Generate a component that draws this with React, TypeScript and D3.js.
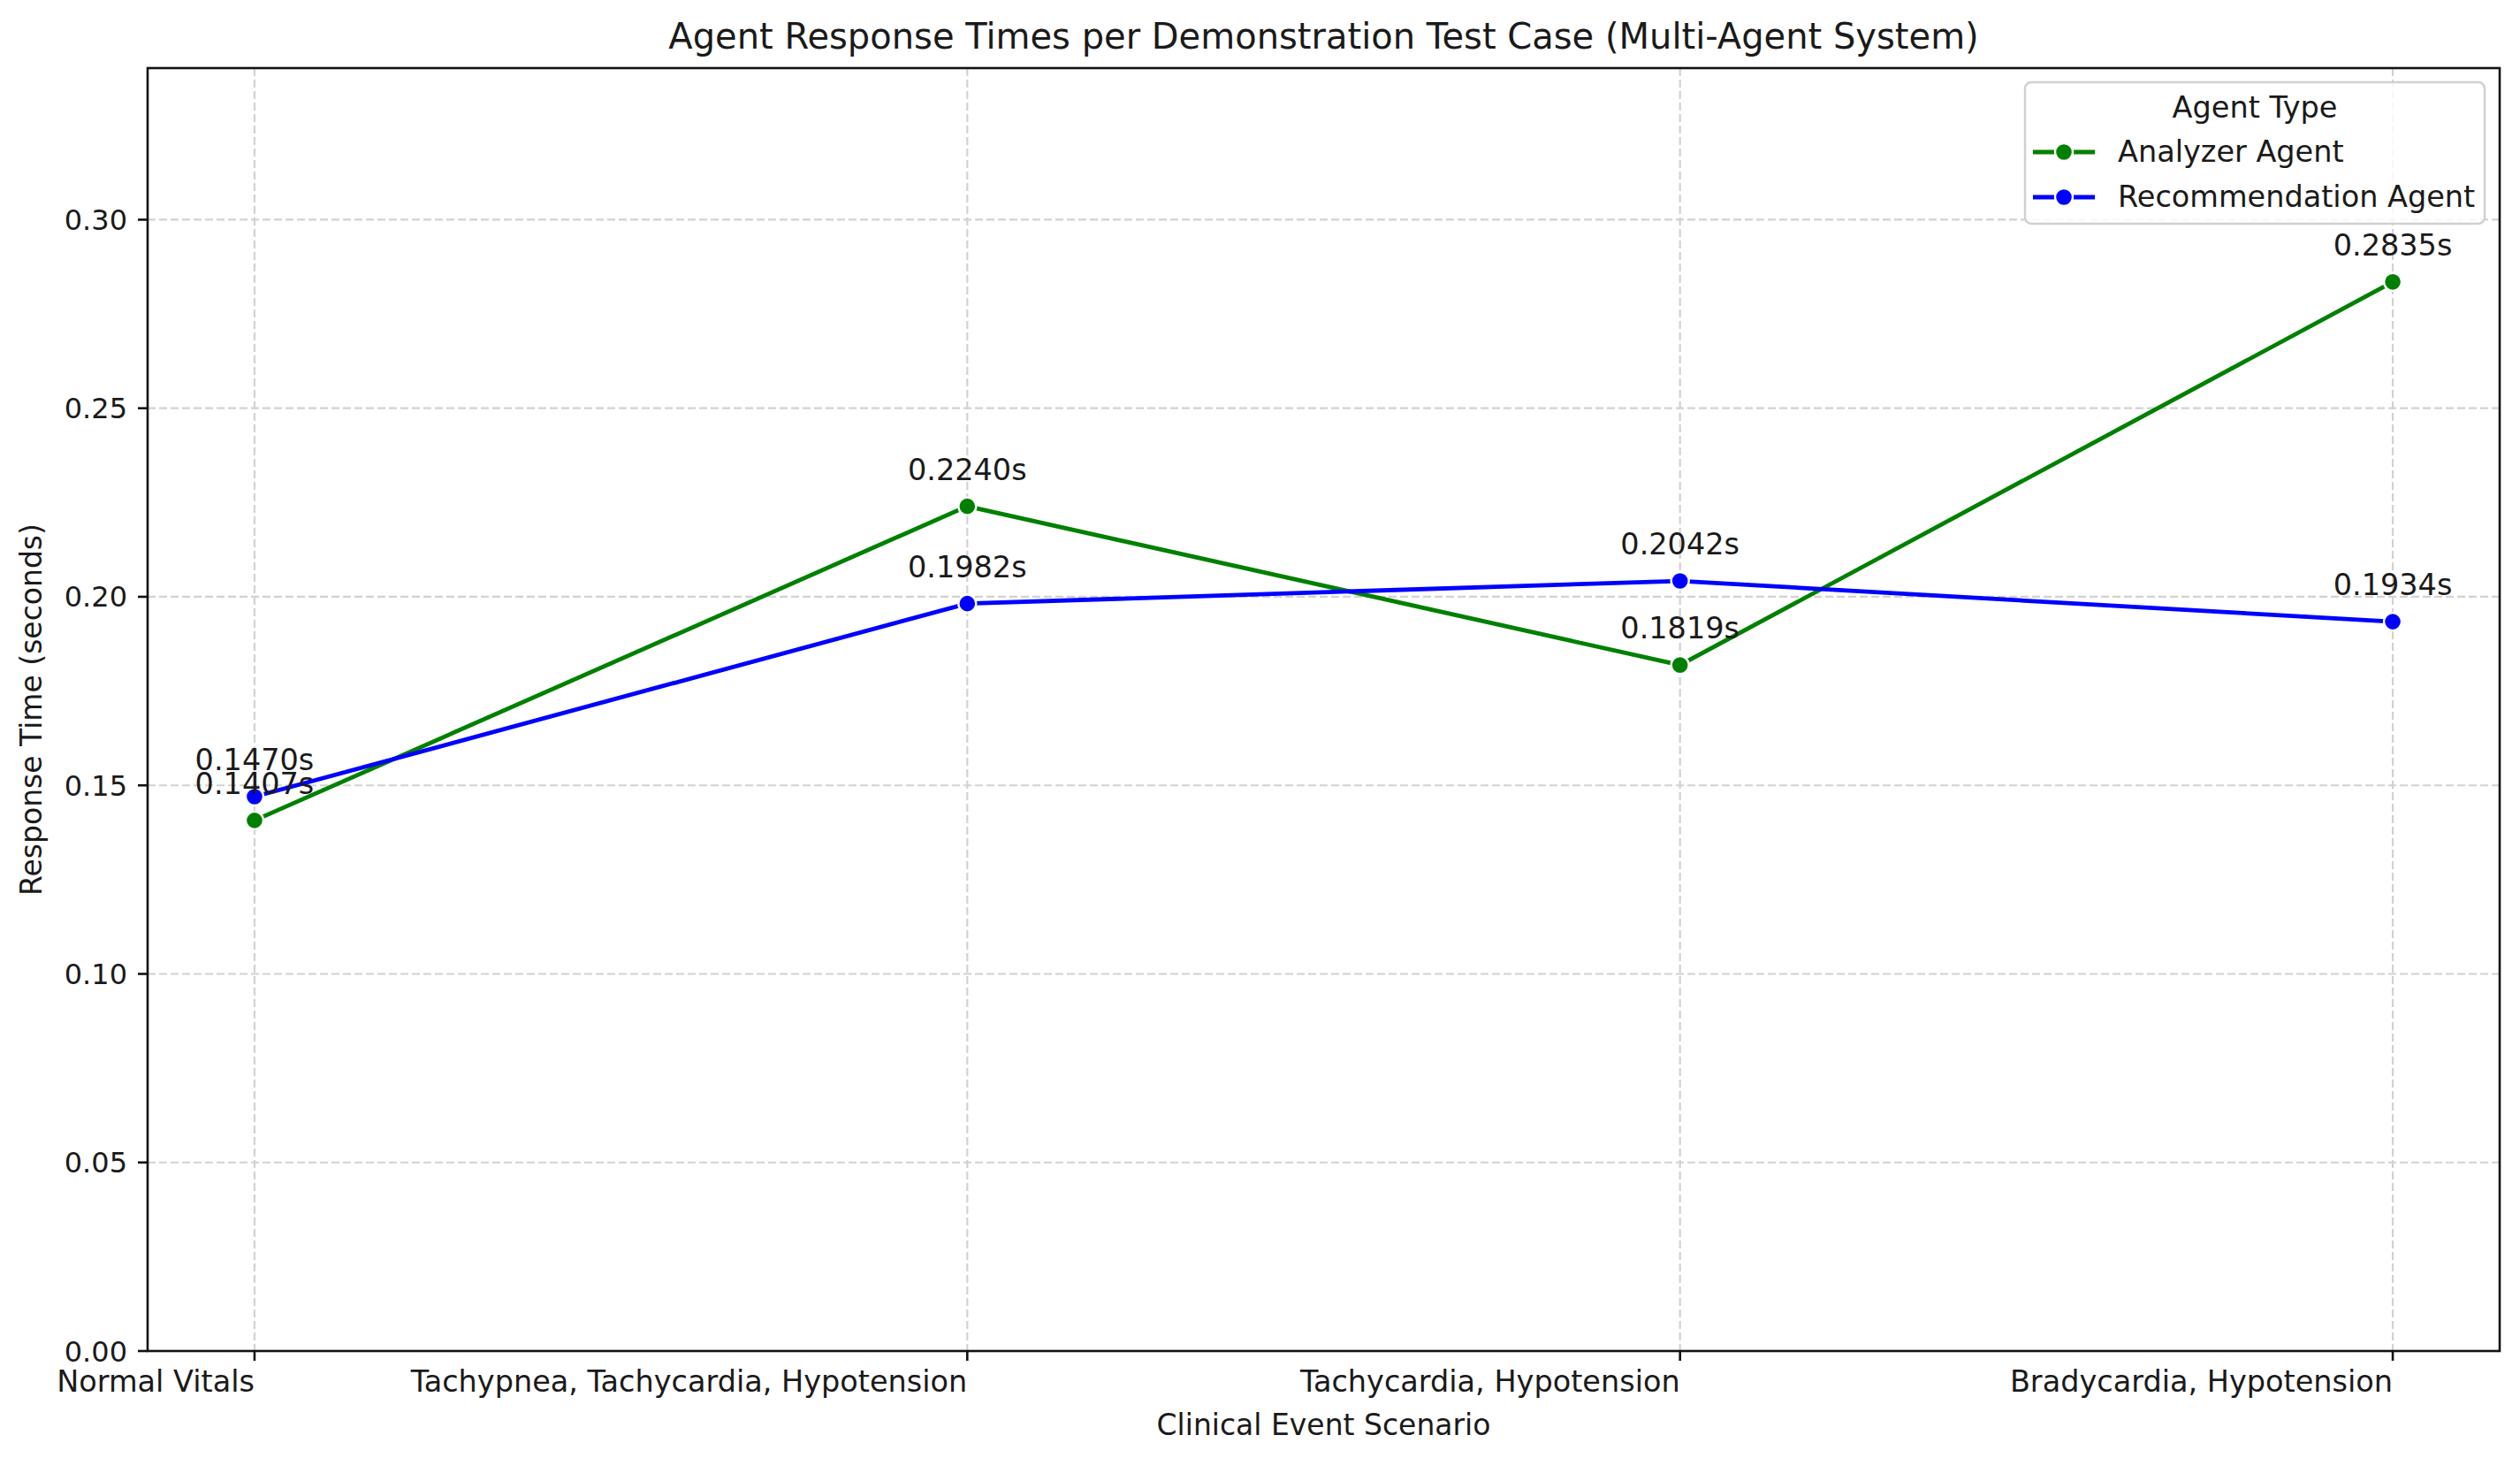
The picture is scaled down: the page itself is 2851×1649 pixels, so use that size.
import React, { useEffect, useRef } from "react";
import * as d3 from "d3";

// Scenario categories and per-agent response times (seconds)
const categories = [
  "Normal Vitals",
  "Tachypnea, Tachycardia, Hypotension",
  "Tachycardia, Hypotension",
  "Bradycardia, Hypotension",
];
const analyzerTimes = [0.1407, 0.224, 0.1819, 0.2835];
const recommendationTimes = [0.147, 0.1982, 0.2042, 0.1934];
const seriesNames = ["Analyzer Agent", "Recommendation Agent"];
const yTicks = [0, 0.05, 0.1, 0.15, 0.2, 0.25, 0.3];

const App: React.FC = () => {
  const ref = useRef<SVGSVGElement | null>(null);

  useEffect(() => {
    const width = 2851,
      height = 1649;
    const left = 167,
      right = 2828,
      top = 77,
      bottom = 1528;
    const font = "'DejaVu Sans', sans-serif";
    const textColor = "#1a1a1a";
    const colors = ["#008000", "#0000ff"];
    const fs = 33.5;

    const svg = d3.select(ref.current);
    svg.selectAll("*").remove();
    svg.attr("width", width).attr("height", height);

    svg
      .append("rect")
      .attr("width", width)
      .attr("height", height)
      .attr("fill", "#fff");

    const series = [analyzerTimes, recommendationTimes].map((vals, i) => ({
      name: seriesNames[i],
      color: colors[i],
      points: vals.map((v, j) => ({ cat: categories[j], value: v })),
    }));

    const x = d3
      .scalePoint<string>()
      .domain(categories)
      .range([left, right])
      .padding(0.15);

    const yMax = d3.max([...analyzerTimes, ...recommendationTimes])! * 1.2;
    const y = d3.scaleLinear().domain([0, yMax]).range([bottom, top]);

    // grid
    const grid = svg.append("g");
    grid
      .selectAll(".hgrid")
      .data(yTicks)
      .enter()
      .append("line")
      .attr("x1", left)
      .attr("x2", right)
      .attr("y1", (d) => y(d))
      .attr("y2", (d) => y(d))
      .attr("stroke", "#d2d2d2")
      .attr("stroke-width", 2.2)
      .attr("stroke-dasharray", "9,4");
    grid
      .selectAll(".vgrid")
      .data(categories)
      .enter()
      .append("line")
      .attr("x1", (d) => x(d)!)
      .attr("x2", (d) => x(d)!)
      .attr("y1", top)
      .attr("y2", bottom)
      .attr("stroke", "#d2d2d2")
      .attr("stroke-width", 2.2)
      .attr("stroke-dasharray", "9,4");

    // lines + markers
    const line = d3
      .line<{ cat: string; value: number }>()
      .x((d) => x(d.cat)!)
      .y((d) => y(d.value));

    series.forEach((s) => {
      svg
        .append("path")
        .datum(s.points)
        .attr("d", line)
        .attr("fill", "none")
        .attr("stroke", s.color)
        .attr("stroke-width", 4.8);
      svg
        .append("g")
        .selectAll("circle")
        .data(s.points)
        .enter()
        .append("circle")
        .attr("cx", (d) => x(d.cat)!)
        .attr("cy", (d) => y(d.value))
        .attr("r", 10)
        .attr("fill", s.color)
        .attr("stroke", "#fff")
        .attr("stroke-width", 2.4);
    });

    // value labels (the two at "Normal Vitals" overlap, as in the source)
    series.forEach((s) => {
      svg
        .append("g")
        .selectAll("text")
        .data(s.points)
        .enter()
        .append("text")
        .attr("x", (d) => x(d.cat)!)
        .attr("y", (d) => y(d.value) - 30)
        .attr("text-anchor", "middle")
        .attr("font-family", font)
        .attr("font-size", fs)
        .attr("fill", textColor)
        .text((d) => d.value.toFixed(4) + "s");
    });

    // spines
    svg
      .append("rect")
      .attr("x", left)
      .attr("y", top)
      .attr("width", right - left)
      .attr("height", bottom - top)
      .attr("fill", "none")
      .attr("stroke", "#111")
      .attr("stroke-width", 2.6);

    // y axis ticks
    const yAxis = svg.append("g");
    yAxis
      .selectAll("line")
      .data(yTicks)
      .enter()
      .append("line")
      .attr("x1", left - 11)
      .attr("x2", left)
      .attr("y1", (d) => y(d))
      .attr("y2", (d) => y(d))
      .attr("stroke", "#111")
      .attr("stroke-width", 2.6);
    yAxis
      .selectAll("text")
      .data(yTicks)
      .enter()
      .append("text")
      .attr("x", left - 23)
      .attr("y", (d) => y(d))
      .attr("dy", "0.36em")
      .attr("text-anchor", "end")
      .attr("font-family", font)
      .attr("font-size", 32)
      .attr("fill", textColor)
      .text((d) => d.toFixed(2));

    // x axis ticks (labels right-aligned to tick)
    const xAxis = svg.append("g");
    xAxis
      .selectAll("line")
      .data(categories)
      .enter()
      .append("line")
      .attr("x1", (d) => x(d)!)
      .attr("x2", (d) => x(d)!)
      .attr("y1", bottom)
      .attr("y2", bottom + 11)
      .attr("stroke", "#111")
      .attr("stroke-width", 2.6);
    xAxis
      .selectAll("text")
      .data(categories)
      .enter()
      .append("text")
      .attr("x", (d) => x(d)!)
      .attr("y", 1574)
      .attr("text-anchor", "end")
      .attr("font-family", font)
      .attr("font-size", fs)
      .attr("fill", textColor)
      .text((d) => d);

    // axis titles
    svg
      .append("text")
      .attr("x", (left + right) / 2)
      .attr("y", 1623)
      .attr("text-anchor", "middle")
      .attr("font-family", font)
      .attr("font-size", 33)
      .attr("fill", textColor)
      .text("Clinical Event Scenario");

    svg
      .append("text")
      .attr("transform", `translate(47,${(top + bottom) / 2}) rotate(-90)`)
      .attr("text-anchor", "middle")
      .attr("font-family", font)
      .attr("font-size", 33)
      .attr("fill", textColor)
      .text("Response Time (seconds)");

    // title
    svg
      .append("text")
      .attr("x", (left + right) / 2)
      .attr("y", 55)
      .attr("text-anchor", "middle")
      .attr("font-family", font)
      .attr("font-size", 40)
      .attr("fill", textColor)
      .text(
        "Agent Response Times per Demonstration Test Case (Multi-Agent System)",
      );

    // legend
    const legend = svg.append("g");
    legend
      .append("rect")
      .attr("x", 2291)
      .attr("y", 93)
      .attr("width", 520)
      .attr("height", 160)
      .attr("rx", 7)
      .attr("fill", "rgba(255,255,255,0.85)")
      .attr("stroke", "#d0d0d0")
      .attr("stroke-width", 2.4);
    legend
      .append("text")
      .attr("x", 2551)
      .attr("y", 133)
      .attr("text-anchor", "middle")
      .attr("font-family", font)
      .attr("font-size", fs)
      .attr("fill", textColor)
      .text("Agent Type");
    series.forEach((s, i) => {
      const cy = 172 + i * 51;
      legend
        .append("line")
        .attr("x1", 2300)
        .attr("x2", 2370)
        .attr("y1", cy)
        .attr("y2", cy)
        .attr("stroke", s.color)
        .attr("stroke-width", 4.8);
      legend
        .append("circle")
        .attr("cx", 2335)
        .attr("cy", cy)
        .attr("r", 10)
        .attr("fill", s.color)
        .attr("stroke", "#fff")
        .attr("stroke-width", 2.4);
      legend
        .append("text")
        .attr("x", 2396)
        .attr("y", cy + 11)
        .attr("font-family", font)
        .attr("font-size", fs)
        .attr("fill", textColor)
        .text(s.name);
    });
  }, []);

  return (
    <svg
      ref={ref}
      style={{ position: "absolute", left: 0, top: 0, display: "block" }}
    />
  );
};

export default App;
